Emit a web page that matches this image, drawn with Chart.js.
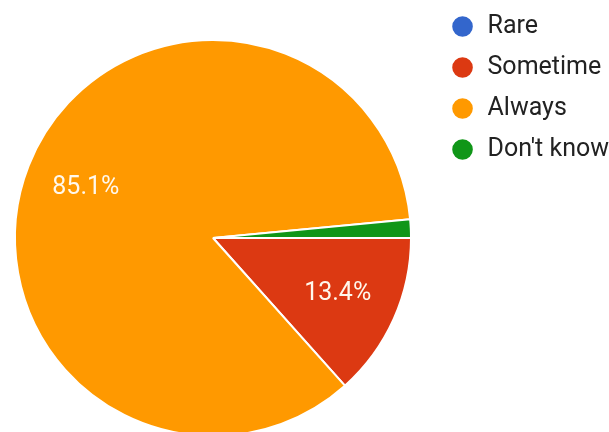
<!DOCTYPE html>
<html>
<head>
<meta charset="utf-8">
<script src="https://cdn.jsdelivr.net/npm/chart.js@4/dist/chart.umd.min.js"></script>
<style>
  html, body { margin: 0; padding: 0; background: #ffffff; overflow: hidden; }
  #wrap { width: 609px; height: 432px; overflow: hidden; position: relative; }
  #pie { position: absolute; left: -8px; top: 0; }
</style>
</head>
<body>
<div id="wrap"><canvas id="pie" width="617" height="482"></canvas></div>
<script>
// Data from the survey answer pie (percent of responses)
const categories = ['Rare', 'Sometime', 'Always', "Don't know"];
const shares = [0, 13.4, 85.1, 1.5];
const sliceColors = ['#3366cc', '#dc3912', '#ff9900', '#109618'];

// percentage labels inside the bigger slices
const sliceLabels = {
  id: 'sliceLabels',
  afterDatasetsDraw(chart) {
    const ctx = chart.ctx;
    const meta = chart.getDatasetMeta(0);
    ctx.save();
    ctx.font = '25px Roboto';
    ctx.fillStyle = '#fff8ec';
    ctx.textAlign = 'center';
    ctx.textBaseline = 'middle';
    meta.data.forEach((arc, i) => {
      const v = shares[i];
      if (v < 5) return;
      const p = arc.getProps(['x', 'y', 'startAngle', 'endAngle', 'outerRadius'], true);
      const mid = (p.startAngle + p.endAngle) / 2;
      const r = p.outerRadius * 0.69;
      ctx.fillText(v.toFixed(1) + '%', p.x + Math.cos(mid) * r, p.y + Math.sin(mid) * r);
    });
    ctx.restore();
  }
};

const chart = new Chart(document.getElementById('pie'), {
  type: 'pie',
  data: {
    labels: categories,
    datasets: [{
      data: shares,
      backgroundColor: sliceColors,
      borderColor: '#ffffff',
      borderWidth: 2,
      radius: 198,
    }],
  },
  options: {
    responsive: false,
    animation: false,
    rotation: 90,
    layout: { padding: { top: -2, bottom: 6, left: 0, right: -10 } },
    plugins: {
      legend: {
        position: 'right',
        align: 'start',
        labels: {
          color: '#222222',
          font: { family: 'Roboto', size: 25 },
          padding: 16,
          usePointStyle: true,
          pointStyle: 'circle',
          boxWidth: 25,
          boxHeight: 16,
        },
      },
      tooltip: { enabled: false },
    },
  },
  plugins: [sliceLabels],
});
</script>
</body>
</html>
